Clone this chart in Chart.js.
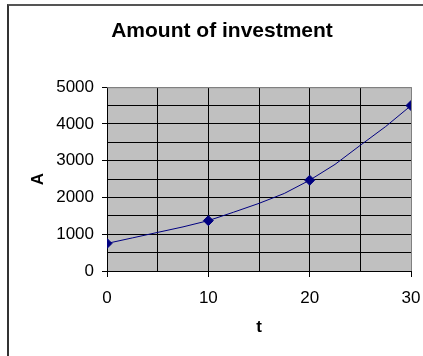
<!DOCTYPE html>
<html>
<head>
<meta charset="utf-8">
<script src="https://cdn.jsdelivr.net/npm/chart.js@4.4.0/dist/chart.umd.min.js"></script>
<style>
  html, body { margin: 0; padding: 0; background: #fff; overflow: hidden; }
  #wrap { position: relative; width: 423px; height: 356px; overflow: hidden; }
  #frame {
    position: absolute; left: 7px; top: 4px; right: 0; bottom: 0;
    border-left: 2px solid #333; border-top: 2px solid #555;
  }
  #myChart { position: absolute; left: 0; top: 0; }
</style>
</head>
<body>
<div id="wrap">
  <div id="frame"></div>
  <canvas id="myChart" width="423" height="356"></canvas>
</div>
<script>
// values
const tValues = [0, 2.5, 5, 7.5, 10, 12.5, 15, 17.5, 20, 22.5, 25, 27.5, 30];
const amounts = [750, 900, 1050, 1200, 1370, 1600, 1840, 2110, 2470, 2900, 3420, 3930, 4500];
const markedT = [0, 10, 20, 30];

const FONT = "'Liberation Sans', Arial, sans-serif";

// grey plot area + grey top/right edge (Excel look)
const plotArea = {
  id: "plotArea",
  beforeDraw(chart) {
    const { ctx, chartArea: a } = chart;
    ctx.save();
    ctx.fillStyle = "#c0c0c0";
    ctx.fillRect(a.left, a.top, a.right - a.left, a.bottom - a.top);
    ctx.restore();
  },
  beforeDatasetsDraw(chart) {
    const { ctx, chartArea: a } = chart;
    ctx.save();
    ctx.strokeStyle = "#808080";
    ctx.lineWidth = 1;
    ctx.beginPath();
    ctx.moveTo(a.left, a.top + 0.5);
    ctx.lineTo(a.right + 0.5, a.top + 0.5);
    ctx.lineTo(a.right + 0.5, a.bottom);
    ctx.stroke();
    ctx.restore();
  },
};

const points = tValues.map((t, i) => ({ x: t, y: amounts[i] }));

const config = {
  type: "line",
  data: {
    datasets: [
      {
        label: "A",
        data: points,
        borderColor: "#000080",
        backgroundColor: "#000080",
        borderWidth: 1,
        tension: 0,
        pointStyle: "rectRot",
        pointRadius: (ctx) => (markedT.includes(ctx.raw.x) ? 5 : 0),
        pointHoverRadius: 0,
      },
    ],
  },
  options: {
    responsive: false,
    animation: false,
    events: [],
    layout: { padding: { left: 33, right: 12, top: 0, bottom: 0 } },
    plugins: {
      legend: { display: false },
      tooltip: { enabled: false },
      title: {
        display: true,
        text: "Amount of investment",
        color: "#000",
        font: { family: FONT, size: 21, weight: "bold" },
        padding: { top: 19, bottom: 43 },
      },
    },
    scales: {
      x: {
        type: "linear",
        min: 0,
        max: 30,
        afterFit: (scale) => {
          scale.height = 85;
          scale.paddingLeft = 5;
          scale.paddingRight = 10;
        },
        border: { color: "#000", width: 1 },
        grid: {
          color: (ctx) => (ctx.tick && ctx.tick.value === 30 ? "#808080" : "#000"),
          lineWidth: 1,
          tickLength: 6,
          tickColor: (ctx) => (ctx.tick && ctx.tick.value % 10 === 0 ? "#000" : "transparent"),
        },
        ticks: {
          stepSize: 5,
          autoSkip: false,
          maxRotation: 0,
          padding: 11,
          color: "#000",
          font: { family: FONT, size: 17 },
          callback: (v) => (v % 10 === 0 ? v : ""),
        },
        title: {
          display: true,
          text: "t",
          color: "#000",
          font: { family: FONT, size: 17, weight: "bold" },
          padding: { top: 0, bottom: 18 },
        },
      },
      y: {
        min: 0,
        max: 5000,
        afterFit: (scale) => { scale.width = 74; },
        border: { color: "#000", width: 1 },
        grid: {
          color: (ctx) => (ctx.tick && ctx.tick.value === 5000 ? "#808080" : "#000"),
          lineWidth: 1,
          tickLength: 5,
          tickColor: (ctx) => (ctx.tick && ctx.tick.value % 1000 === 0 ? "#000" : "transparent"),
        },
        ticks: {
          stepSize: 500,
          autoSkip: false,
          padding: 8,
          color: "#000",
          font: { family: FONT, size: 17 },
          callback: (v) => (v % 1000 === 0 ? v : ""),
        },
        title: {
          display: true,
          text: "A",
          color: "#000",
          font: { family: FONT, size: 17, weight: "bold" },
          padding: { top: -5, bottom: 0 },
        },
      },
    },
  },
  plugins: [plotArea],
};

const myChart = new Chart(document.getElementById("myChart"), config);
</script>
</body>
</html>
